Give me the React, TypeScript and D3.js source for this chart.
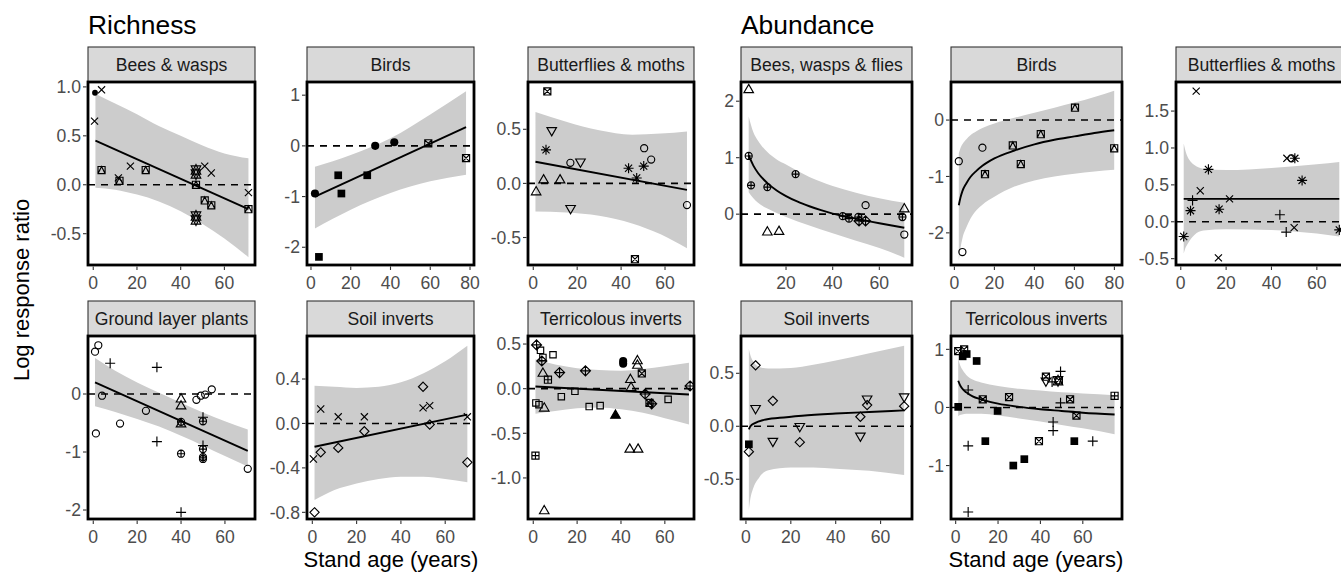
import React from 'react';
import * as d3 from 'd3';

const FONT = "'Liberation Sans', Arial, Helvetica, sans-serif";

type Pt = [number, number, string];
type XY = [number, number];
type Band = [number, number, number];

// ---------------- Richness ----------------
const richBeesPts: Pt[] = [
  [0.8, 0.94, 'dot'], [3.8, 0.97, 'x'], [0.6, 0.65, 'x'], [3.8, 0.15, 'sqt'],
  [12, 0.04, 'sqt'], [11.5, 0.07, 'x'], [17, 0.19, 'x'], [24, 0.15, 'sqt'],
  [47, 0.15, 'star'], [47, 0.11, 'star'], [47, 0.0, 'sqt'], [47, -0.32, 'star'], [47, -0.36, 'star'],
  [51, 0.19, 'x'], [54, 0.12, 'x'], [51, -0.16, 'sqt'], [54, -0.21, 'sqt'],
  [71, -0.08, 'x'], [71, -0.25, 'sqt'],
];
const richBeesFit: XY[] = [[1, 0.45], [71, -0.25]];
const richBeesBand: Band[] = [
  [1, -0.03, 0.93], [10, -0.05, 0.83], [20, -0.1, 0.72], [30, -0.17, 0.6],
  [40, -0.27, 0.5], [50, -0.4, 0.4], [60, -0.55, 0.32], [71, -0.74, 0.27],
];

const richBirdsPts: Pt[] = [
  [2, -0.94, 'fci'], [4, -2.19, 'fsq'], [13.7, -0.58, 'fsq'], [15.3, -0.94, 'fsq'],
  [28.3, -0.58, 'fsq'], [32.3, 0.0, 'fci'], [41.9, 0.07, 'fci'], [59, 0.05, 'sqx'], [78, -0.24, 'sqx'],
];
const richBirdsFit: XY[] = [[2, -1.0], [78, 0.37]];
const richBirdsBand: Band[] = [
  [2, -1.63, -0.41], [20, -1.26, -0.18], [40, -0.93, 0.15], [60, -0.7, 0.62], [78, -0.57, 1.08],
];

const richButterPts: Pt[] = [
  [6.4, 0.85, 'sqx'], [8.4, 0.49, 'td'], [5.8, 0.31, 'ast'], [4.7, 0.03, 'tu'],
  [1.3, -0.08, 'tu'], [12.2, 0.03, 'tu'], [16.9, 0.19, 'ci'], [21.5, 0.2, 'td'],
  [17, -0.23, 'td'], [43.4, 0.14, 'ast'], [47.1, 0.05, 'ast'], [50.3, 0.16, 'ast'],
  [50.5, 0.325, 'ci'], [53.7, 0.22, 'ci'], [70, -0.2, 'ci'], [46.3, -0.7, 'sqx'],
];
const richButterFit: XY[] = [[1, 0.2], [70, -0.06]];
const richButterBand: Band[] = [
  [1, -0.26, 0.66], [15, -0.27, 0.57], [30, -0.3, 0.49], [45, -0.37, 0.45], [58, -0.47, 0.46], [70, -0.6, 0.48],
];

const richPlantsPts: Pt[] = [
  [0.8, 0.73, 'ci'], [2.3, 0.84, 'ci'], [7.7, 0.53, 'pl'], [4, -0.03, 'ci'], [1.2, -0.68, 'ci'],
  [12.2, -0.51, 'ci'], [24, -0.29, 'ci'], [29, 0.46, 'pl'], [29, -0.82, 'pl'],
  [40, -0.09, 'tu'], [40, -0.21, 'tu'], [40, -0.48, 'cip'], [40, -0.52, 'tu'], [40, -1.03, 'cip'], [40, -2.04, 'pl'],
  [47, -0.1, 'ci'], [49, -0.03, 'ci'], [51, -0.01, 'ci'], [54, 0.08, 'ci'],
  [50, -0.4, 'pl'], [50, -0.47, 'cip'], [50, -0.89, 'pl'], [50, -0.95, 'cip'], [50, -1.09, 'cip'], [50, -1.12, 'cip'],
  [70.4, -1.29, 'ci'],
];
const richPlantsFit: XY[] = [[0.8, 0.2], [70.4, -0.98]];
const richPlantsBand: Band[] = [
  [0.8, -0.21, 0.62], [10, -0.31, 0.4], [20, -0.43, 0.2], [30, -0.56, 0.02],
  [40, -0.72, -0.15], [50, -0.89, -0.32], [60, -1.07, -0.47], [70.4, -1.25, -0.61],
];

const richSoilPts: Pt[] = [
  [0.5, -0.32, 'x'], [1, -0.8, 'di'], [3.8, -0.26, 'di'], [3.8, 0.13, 'x'], [11.7, 0.06, 'x'],
  [11.7, -0.22, 'di'], [23.5, 0.06, 'x'], [23.5, -0.07, 'di'], [50, 0.33, 'di'], [50, 0.14, 'x'],
  [53, 0.16, 'x'], [53, -0.01, 'di'], [70, 0.06, 'x'], [70, -0.35, 'di'],
];
const richSoilFit: XY[] = [[1, -0.21], [70, 0.08]];
const richSoilBand: Band[] = [
  [1, -0.69, 0.34], [10, -0.6, 0.33], [20, -0.54, 0.32], [30, -0.5, 0.33],
  [40, -0.48, 0.37], [50, -0.48, 0.45], [60, -0.5, 0.56], [70, -0.53, 0.7],
];

const richTerrPts: Pt[] = [
  [1.5, 0.49, 'dip'], [3.3, 0.43, 'sq'], [9, 0.38, 'sq'], [4.4, 0.35, 'sq'], [3.9, 0.31, 'dip'],
  [4.4, 0.17, 'tu'], [6.7, 0.1, 'sqp'], [12, 0.18, 'dip'], [23.8, 0.2, 'dip'],
  [12.8, -0.09, 'sq'], [19, -0.03, 'sq'], [1.2, -0.16, 'sq'], [2.6, -0.18, 'sq'], [5, -0.22, 'tu'],
  [25.5, -0.2, 'sq'], [30.5, -0.19, 'sq'], [1, -0.75, 'sqp'], [5, -1.37, 'tu'],
  [41, 0.31, 'fci'], [41, 0.28, 'fci'], [37.5, -0.3, 'ftu'], [47.5, 0.31, 'tu'], [47.5, 0.26, 'tu'],
  [49.5, 0.17, 'sqx'], [44.3, 0.1, 'tu'], [44.6, 0.01, 'tu'], [51, -0.06, 'dip'], [54, -0.17, 'dip'],
  [53, -0.16, 'sqx'], [61.5, -0.12, 'sq'], [71.5, 0.03, 'dip'], [44, -0.68, 'tu'], [47.8, -0.68, 'tu'],
];
const richTerrFit: XY[] = [[1, 0.025], [71, -0.065]];
const richTerrBand: Band[] = [
  [1, -0.28, 0.33], [10, -0.25, 0.27], [20, -0.22, 0.23], [30, -0.21, 0.21],
  [40, -0.23, 0.2], [50, -0.27, 0.22], [60, -0.33, 0.25], [71, -0.4, 0.29],
];

// ---------------- Abundance ----------------
const abunBeesPts: Pt[] = [
  [4, 2.2, 'tu'], [4, 1.03, 'cip'], [5, 0.51, 'cip'], [12, 0.48, 'cip'], [12, -0.32, 'tu'],
  [17, -0.31, 'tu'], [24.1, 0.71, 'cip'], [44.3, -0.035, 'cip'], [47, -0.08, 'cip'],
  [51, -0.05, 'cip'], [51.3, -0.12, 'dip'], [54.1, -0.12, 'dip'], [54.1, 0.16, 'ci'],
  [69.9, -0.05, 'cip'], [70.7, 0.09, 'tu'], [70.7, -0.36, 'ci'],
];
const abunBeesFit: XY[] = [
  [4, 1.04], [6, 0.86], [8, 0.73], [12, 0.55], [16, 0.42], [20, 0.32], [25, 0.22],
  [30, 0.14], [35, 0.07], [40, 0.01], [50, -0.08], [60, -0.16], [70.7, -0.24],
];
const abunBeesBand: Band[] = [
  [4, 0.39, 1.73], [6, 0.28, 1.45], [8, 0.2, 1.3], [12, 0.1, 1.1], [16, 0.02, 0.97],
  [20, -0.05, 0.88], [30, -0.2, 0.66], [40, -0.34, 0.5], [50, -0.47, 0.38], [60, -0.6, 0.28], [70.7, -0.77, 0.2],
];

const abunBirdsPts: Pt[] = [
  [2.2, -0.73, 'ci'], [4, -2.34, 'ci'], [14, -0.49, 'ci'], [15.3, -0.96, 'sqt'], [29.2, -0.45, 'sqt'],
  [33.2, -0.78, 'sqt'], [43.2, -0.25, 'sqt'], [60.3, 0.22, 'sqt'], [79.9, -0.5, 'sqt'],
];
const abunBirdsFit: XY[] = [
  [2.2, -1.51], [3, -1.38], [4, -1.26], [6, -1.12], [8, -1.01], [11, -0.9], [14, -0.81],
  [20, -0.68], [30, -0.54], [40, -0.43], [50, -0.35], [60, -0.29], [70, -0.23], [79.9, -0.18],
];
const abunBirdsBand: Band[] = [
  [2.2, -2.49, -0.59], [3, -2.28, -0.5], [4, -2.1, -0.43], [6, -1.9, -0.34], [8, -1.75, -0.27],
  [11, -1.6, -0.2], [14, -1.5, -0.14], [20, -1.36, -0.06], [30, -1.18, 0.04], [40, -1.07, 0.13],
  [50, -1.0, 0.22], [60, -0.95, 0.31], [70, -0.91, 0.41], [79.9, -0.88, 0.52],
];

const abunButterPts: Pt[] = [
  [6.8, 1.77, 'x'], [1.3, -0.2, 'ast'], [4.3, 0.15, 'ast'], [5.2, 0.29, 'pl'], [8.6, 0.42, 'x'],
  [12.2, 0.71, 'ast'], [16.9, 0.17, 'ast'], [16.6, -0.49, 'x'], [21.5, 0.31, 'x'],
  [43.7, 0.095, 'pl'], [46.5, -0.14, 'pl'], [50, -0.08, 'x'], [46.8, 0.86, 'x'], [48.8, 0.86, 'ci'],
  [50.3, 0.86, 'ast'], [53.5, 0.56, 'ast'], [69.9, -0.11, 'ast'],
];
const abunButterFit: XY[] = [[1.3, 0.31], [69.9, 0.31]];
const abunButterBand: Band[] = [
  [1.3, -0.43, 1.06], [2, -0.36, 0.97], [3, -0.3, 0.88], [4.5, -0.23, 0.81], [6, -0.18, 0.77],
  [10, -0.12, 0.72], [20, -0.1, 0.7], [40, -0.11, 0.73], [60, -0.16, 0.78], [69.9, -0.2, 0.81],
];

const abunSoilPts: Pt[] = [
  [1.3, -0.17, 'fsq'], [1.3, -0.24, 'di'], [4.3, 0.575, 'di'], [4.3, 0.17, 'td'], [12, 0.24, 'di'],
  [12, -0.14, 'td'], [24, 0.0, 'td'], [24, -0.15, 'di'], [51, 0.09, 'di'], [51, -0.09, 'td'],
  [54, 0.26, 'td'], [54, 0.2, 'di'], [70.5, 0.28, 'td'], [70.5, 0.19, 'di'],
];
const abunSoilFit: XY[] = [
  [1.3, -0.03], [2, 0.0], [4, 0.03], [8, 0.06], [15, 0.08], [25, 0.1], [40, 0.12], [55, 0.135], [70.5, 0.15],
];
const abunSoilBand: Band[] = [
  [1.3, -0.79, 0.73], [2, -0.68, 0.67], [3, -0.6, 0.62], [6, -0.48, 0.56], [10, -0.415, 0.545],
  [20, -0.39, 0.55], [30, -0.39, 0.58], [40, -0.4, 0.62], [55, -0.42, 0.69], [70.5, -0.46, 0.76],
];

const abunTerrPts: Pt[] = [
  [1.2, 0.97, 'sqx'], [4, 1.0, 'sqx'], [3.3, 0.88, 'fsq'], [5.2, 0.92, 'fsq'], [9.9, 0.8, 'fsq'],
  [1.2, 0.01, 'fsq'], [5.9, 0.3, 'pl'], [5.9, -0.66, 'pl'], [5.9, -1.8, 'pl'], [12.8, 0.14, 'sqx'],
  [14, -0.58, 'fsq'], [19.8, -0.06, 'fsq'], [25.2, 0.18, 'sqx'], [27.2, -1.0, 'fsq'], [32.4, -0.89, 'fsq'],
  [39.3, -0.58, 'sqx'], [42.6, 0.53, 'sqx'], [42.6, 0.46, 'td'], [45.5, 0.44, 'pl'], [48.3, 0.46, 'star'],
  [48.7, 0.47, 'sqx'], [49.5, 0.62, 'pl'], [49.5, 0.08, 'pl'], [46, -0.25, 'pl'], [46, -0.4, 'pl'],
  [54, 0.14, 'sqx'], [57, -0.14, 'sqx'], [56, -0.58, 'fsq'], [64.7, -0.58, 'pl'], [75, 0.2, 'sqp'],
];
const abunTerrFit: XY[] = [
  [1.2, 0.46], [2, 0.39], [3, 0.33], [5, 0.26], [8, 0.19], [12, 0.14], [20, 0.065],
  [30, 0.01], [40, -0.03], [50, -0.06], [60, -0.09], [75, -0.12],
];
const abunTerrBand: Band[] = [
  [1.2, -0.15, 0.84], [2, -0.13, 0.74], [3, -0.12, 0.66], [5, -0.11, 0.56], [8, -0.11, 0.48],
  [12, -0.11, 0.43], [20, -0.14, 0.37], [30, -0.19, 0.32], [40, -0.24, 0.29], [50, -0.3, 0.26],
  [60, -0.36, 0.24], [75, -0.46, 0.21],
];

// ---------------- Layout ----------------
const COL_LEFT = [88, 307, 528, 741, 951, 1176];
const COL_W = [167, 167, 166, 171, 171, 171];
const ROW_TOP = [82, 336];
const PANEL_H = 183;
const STRIP_H = 35;

interface PanelDef {
  title: string; col: number; row: number;
  xDomain: [number, number]; yDomain: [number, number];
  xTicks: number[]; yTicks: number[]; dec: number;
  pts: Pt[]; fit: XY[]; band: Band[];
}

const PANELS: PanelDef[] = [
  { title: 'Bees & wasps', col: 0, row: 0, xDomain: [-2.4, 74], yDomain: [-0.82, 1.05], xTicks: [0, 20, 40, 60], yTicks: [-0.5, 0, 0.5, 1], dec: 1, pts: richBeesPts, fit: richBeesFit, band: richBeesBand },
  { title: 'Birds', col: 1, row: 0, xDomain: [-2, 82], yDomain: [-2.35, 1.26], xTicks: [0, 20, 40, 60, 80], yTicks: [-2, -1, 0, 1], dec: 0, pts: richBirdsPts, fit: richBirdsFit, band: richBirdsBand },
  { title: 'Butterflies & moths', col: 2, row: 0, xDomain: [-2.4, 73.2], yDomain: [-0.754, 0.937], xTicks: [0, 20, 40, 60], yTicks: [-0.5, 0, 0.5], dec: 1, pts: richButterPts, fit: richButterFit, band: richButterBand },
  { title: 'Bees, wasps & flies', col: 3, row: 0, xDomain: [0.7, 74], yDomain: [-0.9, 2.34], xTicks: [20, 40, 60], yTicks: [0, 1, 2], dec: 0, pts: abunBeesPts, fit: abunBeesFit, band: abunBeesBand },
  { title: 'Birds', col: 4, row: 0, xDomain: [-1.7, 83.8], yDomain: [-2.57, 0.675], xTicks: [0, 20, 40, 60, 80], yTicks: [-2, -1, 0], dec: 0, pts: abunBirdsPts, fit: abunBirdsFit, band: abunBirdsBand },
  { title: 'Butterflies & moths', col: 5, row: 0, xDomain: [-2.1, 73.3], yDomain: [-0.586, 1.894], xTicks: [0, 20, 40, 60], yTicks: [-0.5, 0, 0.5, 1, 1.5], dec: 1, pts: abunButterPts, fit: abunButterFit, band: abunButterBand },
  { title: 'Ground layer plants', col: 0, row: 1, xDomain: [-2.4, 73.7], yDomain: [-2.155, 1.0], xTicks: [0, 20, 40, 60], yTicks: [-2, -1, 0], dec: 0, pts: richPlantsPts, fit: richPlantsFit, band: richPlantsBand },
  { title: 'Soil inverts', col: 1, row: 1, xDomain: [-2.4, 73], yDomain: [-0.86, 0.787], xTicks: [0, 20, 40, 60], yTicks: [-0.8, -0.4, 0, 0.4], dec: 1, pts: richSoilPts, fit: richSoilFit, band: richSoilBand },
  { title: 'Terricolous inverts', col: 2, row: 1, xDomain: [-2.4, 73.3], yDomain: [-1.46, 0.59], xTicks: [0, 20, 40, 60], yTicks: [-1, -0.5, 0, 0.5], dec: 1, pts: richTerrPts, fit: richTerrFit, band: richTerrBand },
  { title: 'Soil inverts', col: 3, row: 1, xDomain: [-2.2, 74], yDomain: [-0.875, 0.852], xTicks: [0, 20, 40, 60], yTicks: [-0.5, 0, 0.5], dec: 1, pts: abunSoilPts, fit: abunSoilFit, band: abunSoilBand },
  { title: 'Terricolous inverts', col: 4, row: 1, xDomain: [-2.2, 78.5], yDomain: [-1.92, 1.23], xTicks: [0, 20, 40, 60], yTicks: [-1, 0, 1], dec: 0, pts: abunTerrPts, fit: abunTerrFit, band: abunTerrBand },
];

const R0 = 3.55;
const SW = 1.15;

function Glyph({ s, x, y }: { s: string; x: number; y: number }) {
  const st = { fill: 'none', stroke: '#000', strokeWidth: SW };
  const r = R0;
  const q = Math.SQRT2 * r;
  const sqPath = (a: number) => `M${x - a},${y - a}h${2 * a}v${2 * a}h${-2 * a}Z`;
  const plus = (a: number) => `M${x - a},${y}H${x + a}M${x},${y - a}V${y + a}`;
  const cross = (a: number) => `M${x - a},${y - a}L${x + a},${y + a}M${x - a},${y + a}L${x + a},${y - a}`;
  const triUp = `M${x},${y - 1.555 * r}L${x + 1.347 * r},${y + 0.778 * r}L${x - 1.347 * r},${y + 0.778 * r}Z`;
  const triDn = `M${x},${y + 1.555 * r}L${x + 1.347 * r},${y - 0.778 * r}L${x - 1.347 * r},${y - 0.778 * r}Z`;
  const dia = (a: number) => `M${x},${y - a}L${x + a},${y}L${x},${y + a}L${x - a},${y}Z`;
  switch (s) {
    case 'sq': return <path d={sqPath(0.9 * r)} {...st} />;
    case 'ci': return <circle cx={x} cy={y} r={r} {...st} />;
    case 'tu': return <path d={triUp} {...st} />;
    case 'td': return <path d={triDn} {...st} />;
    case 'pl': return <path d={plus(q)} {...st} />;
    case 'x': return <path d={cross(r)} {...st} />;
    case 'di': return <path d={dia(1.3 * r)} {...st} />;
    case 'sqx': return <path d={sqPath(r) + cross(r)} {...st} />;
    case 'sqp': return <path d={sqPath(r) + plus(r)} {...st} />;
    case 'sqt': return <path d={sqPath(r) + `M${x - r},${y + r}L${x},${y - r}L${x + r},${y + r}`} {...st} />;
    case 'ast': return <path d={cross(r) + plus(q)} {...st} />;
    case 'dip': return <path d={dia(q) + plus(q)} {...st} />;
    case 'cip': return <path d={`M${x + r},${y}A${r},${r} 0 1 1 ${x - r},${y}A${r},${r} 0 1 1 ${x + r},${y}` + plus(r)} {...st} />;
    case 'star': {
      const rr = 1.555 * r, yc = 0.5 * (0.778 + 1.555) * r, xc = 1.347 * r;
      const d = `M${x},${y - rr}L${x + xc},${y + yc}L${x - xc},${y + yc}ZM${x},${y + rr}L${x + xc},${y - yc}L${x - xc},${y - yc}Z`;
      return <path d={d} {...st} />;
    }
    case 'fsq': return <path d={sqPath(r + 0.3)} fill="#000" />;
    case 'fci': return <circle cx={x} cy={y} r={r + 0.5} fill="#000" />;
    case 'ftu': return <path d={triUp} fill="#000" stroke="#000" strokeWidth={SW} />;
    case 'dot': return <circle cx={x} cy={y} r={2.9} fill="#000" />;
    default: return null;
  }
}

function Panel({ p, idx }: { p: PanelDef; idx: number }) {
  const left = COL_LEFT[p.col];
  const w = COL_W[p.col];
  const top = ROW_TOP[p.row];
  const bottom = top + PANEL_H;
  const x = d3.scaleLinear().domain(p.xDomain).range([left, left + w]);
  const y = d3.scaleLinear().domain(p.yDomain).range([bottom, top]);
  const area = d3.area<Band>().x(d => x(d[0])).y0(d => y(d[1])).y1(d => y(d[2])).curve(d3.curveMonotoneX);
  const line = d3.line<XY>().x(d => x(d[0])).y(d => y(d[1])).curve(d3.curveMonotoneX);
  const clipId = `clip${idx}`;
  const fmt = (v: number) => v.toFixed(p.dec);
  return (
    <g>
      <defs>
        <clipPath id={clipId}><rect x={left} y={top} width={w} height={PANEL_H} /></clipPath>
      </defs>
      <rect x={left} y={top - STRIP_H} width={w} height={STRIP_H} fill="#d9d9d9" stroke="#333333" strokeWidth={1.1} />
      <text x={left + w / 2} y={top - STRIP_H / 2 + 6.2} textAnchor="middle" fontSize={17.6} fill="#1a1a1a" fontFamily={FONT}>{p.title}</text>
      <rect x={left} y={top} width={w} height={PANEL_H} fill="#ffffff" />
      <g clipPath={`url(#${clipId})`}>
        <path d={area(p.band) || ''} fill="#cccccc" stroke="none" />
        <line x1={left} x2={left + w} y1={y(0)} y2={y(0)} stroke="#000" strokeWidth={1.6} strokeDasharray="7,6" />
        <path d={line(p.fit) || ''} fill="none" stroke="#000" strokeWidth={1.9} />
        {p.pts.map((d, i) => <Glyph key={i} s={d[2]} x={x(d[0])} y={y(d[1])} />)}
      </g>
      <rect x={left} y={top} width={w} height={PANEL_H} fill="none" stroke="#000" strokeWidth={2.8} />
      {p.yTicks.map(t => (
        <g key={'y' + t}>
          <line x1={left - 5} x2={left - 1.4} y1={y(t)} y2={y(t)} stroke="#333333" strokeWidth={1.1} />
          <text x={left - 7} y={y(t) + 6.2} textAnchor="end" fontSize={17.6} fill="#4d4d4d" fontFamily={FONT}>{fmt(t)}</text>
        </g>
      ))}
      {p.xTicks.map(t => (
        <g key={'x' + t}>
          <line x1={x(t)} x2={x(t)} y1={bottom + 1.4} y2={bottom + 5} stroke="#333333" strokeWidth={1.1} />
          <text x={x(t)} y={bottom + 23.5} textAnchor="middle" fontSize={17.6} fill="#4d4d4d" fontFamily={FONT}>{t}</text>
        </g>
      ))}
    </g>
  );
}

export default function App() {
  return (
    <div style={{ position: 'absolute', left: 0, top: 0 }}>
      <svg width={1341} height={576} style={{ display: 'block', background: '#ffffff' }}>
        <rect x={0} y={0} width={1341} height={576} fill="#ffffff" />
        <text x={88} y={34} fontSize={26.4} fill="#000" fontFamily={FONT}>Richness</text>
        <text x={741} y={34} fontSize={26.4} fill="#000" fontFamily={FONT}>Abundance</text>
        {PANELS.map((p, i) => <Panel key={i} p={p} idx={i} />)}
        <text transform="translate(29,290) rotate(-90)" textAnchor="middle" fontSize={22} fill="#000" fontFamily={FONT}>Log response ratio</text>
        <text x={391} y={567} textAnchor="middle" fontSize={22} fill="#000" fontFamily={FONT}>Stand age (years)</text>
        <text x={1036} y={567} textAnchor="middle" fontSize={22} fill="#000" fontFamily={FONT}>Stand age (years)</text>
      </svg>
    </div>
  );
}
